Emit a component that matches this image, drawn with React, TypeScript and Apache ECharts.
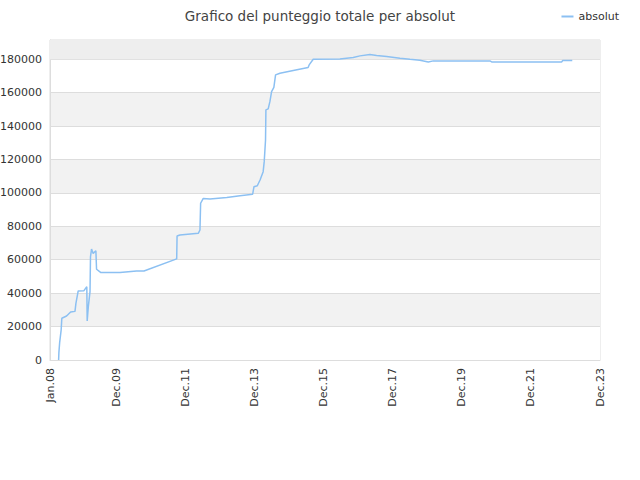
import { useEffect, useRef } from 'react'
import * as echarts from 'echarts'

const TITLE = 'Grafico del punteggio totale per absolut'
const SERIES_NAME = 'absolut'

// sampled points of the score line (date, total score)
const dates = [
  '2008-04-01', '2008-04-04', '2008-04-12', '2008-04-28', '2008-05-05',
  '2008-06-24', '2008-08-06', '2008-09-21', '2008-10-01', '2008-10-25',
  '2008-12-25', '2009-01-24', '2009-01-28', '2009-02-09', '2009-02-27',
  '2009-03-04', '2009-03-15', '2009-04-01', '2009-04-30', '2009-05-07',
  '2009-06-22', '2010-01-10', '2010-07-04', '2010-09-20', '2011-09-01',
  '2011-09-05', '2011-10-05', '2012-04-16', '2012-05-04', '2012-05-11',
  '2012-06-08', '2012-08-18', '2013-02-11', '2013-07-01', '2013-11-12',
  '2013-11-26', '2013-12-31', '2014-01-29', '2014-03-03', '2014-03-14',
  '2014-03-28', '2014-04-01', '2014-04-25', '2014-05-13', '2014-05-31',
  '2014-06-24', '2014-07-12', '2014-08-27', '2015-01-15', '2015-06-21',
  '2015-07-02', '2015-08-14', '2016-05-22', '2016-10-10', '2016-12-20',
  '2017-04-04', '2017-06-14', '2017-09-28', '2018-02-16', '2018-06-01',
  '2018-09-15', '2018-12-12', '2019-02-03', '2020-09-24', '2020-10-12',
  '2022-10-21', '2022-11-02', '2023-02-11',
]
const scores = [
  0, 4400, 10400, 18000, 25000,
  26300, 28700, 29100, 33900, 41300,
  41500, 43900, 23300, 31900, 40900,
  61800, 66400, 63800, 65400, 54300,
  52300, 52300, 53300, 53300, 60500,
  74200, 74800, 75800, 77800, 93800,
  96700, 96400, 97200, 98300, 99200,
  103700, 104300, 107700, 112700, 118700,
  131700, 149700, 150300, 154600, 160600,
  163200, 170600, 171600, 173200, 175000,
  176600, 180000, 180200, 181000, 182000,
  182800, 182200, 181600, 180600, 180000,
  179400, 178400, 179000, 179000, 178400,
  178400, 179200, 179200,
]

const tickDates = [
  '2008-01-01', '2009-12-01', '2011-12-01', '2013-12-01', '2015-12-01',
  '2017-12-01', '2019-12-01', '2021-12-01', '2023-12-01',
]
const tickLabels = [
  'Jan.08', 'Dec.09', 'Dec.11', 'Dec.13', 'Dec.15',
  'Dec.17', 'Dec.19', 'Dec.21', 'Dec.23',
]

const Y_MAX = 191500
const FONT = 'DejaVu Sans'

const toTime = (d: string) => {
  const [y, m, day] = d.split('-').map(Number)
  return Date.UTC(y, m - 1, day)
}

export default function App() {
  const ref = useRef<HTMLDivElement>(null)

  useEffect(() => {
    document.body.style.margin = '0'
    if (!ref.current) {
      return
    }
    const chart = echarts.init(ref.current, null, { renderer: 'svg' })
    const tickTimes = tickDates.map(toTime)

    chart.setOption({
      animation: false,
      backgroundColor: '#ffffff',
      textStyle: { fontFamily: FONT },
      title: {
        text: TITLE,
        left: 'center',
        top: 4,
        textStyle: { fontFamily: FONT, fontSize: 13.5, fontWeight: 'normal', color: '#444444' },
      },
      legend: {
        data: [SERIES_NAME],
        right: 16,
        top: 6,
        icon: 'rect',
        itemWidth: 12,
        itemHeight: 2,
        itemGap: 6,
        textStyle: { fontFamily: FONT, fontSize: 11, color: '#333333' },
      },
      grid: {
        left: 50,
        right: 40,
        top: 40,
        bottom: 120,
        outerBoundsMode: 'none',
        containLabel: false,
        show: true,
        borderColor: '#dddddd',
        borderWidth: 1,
      },
      xAxis: {
        type: 'value',
        min: tickTimes[0],
        max: tickTimes[tickTimes.length - 1],
        axisLine: { show: true, lineStyle: { color: '#dddddd' } },
        axisTick: { show: false },
        splitLine: { show: false },
        axisLabel: {
          customValues: tickTimes,
          rotate: 90,
          margin: 8,
          fontSize: 11,
          color: '#333333',
          fontFamily: FONT,
          formatter: (v: number) => {
            let best = 0
            tickTimes.forEach((t, i) => {
              if (Math.abs(t - v) < Math.abs(tickTimes[best] - v)) best = i
            })
            return tickLabels[best]
          },
        },
      },
      yAxis: {
        type: 'value',
        min: 0,
        max: Y_MAX,
        interval: 20000,
        axisLine: { show: true, lineStyle: { color: '#dddddd' } },
        axisTick: { show: false },
        axisLabel: {
          showMaxLabel: false,
          margin: 8,
          fontSize: 11,
          color: '#333333',
          fontFamily: FONT,
          formatter: (v: number) => String(v),
        },
        splitLine: { show: true, lineStyle: { color: '#dddddd' } },
        splitArea: { show: true, areaStyle: { color: ['#ffffff', '#f2f2f2'] } },
      },
      series: [
        {
          name: SERIES_NAME,
          type: 'line',
          showSymbol: false,
          data: dates.map((d, i) => [toTime(d), scores[i]]),
          lineStyle: { color: '#8cc0f2', width: 1.5 },
          itemStyle: { color: '#8cc0f2' },
          markArea: {
            silent: true,
            itemStyle: { color: '#eeeeee' },
            data: [[{ yAxis: 180000 }, { yAxis: Y_MAX }]],
          },
        },
      ],
    })

    return () => {
      chart.dispose()
    }
  }, [])

  return <div ref={ref} style={{ width: 640, height: 480 }} />
}
